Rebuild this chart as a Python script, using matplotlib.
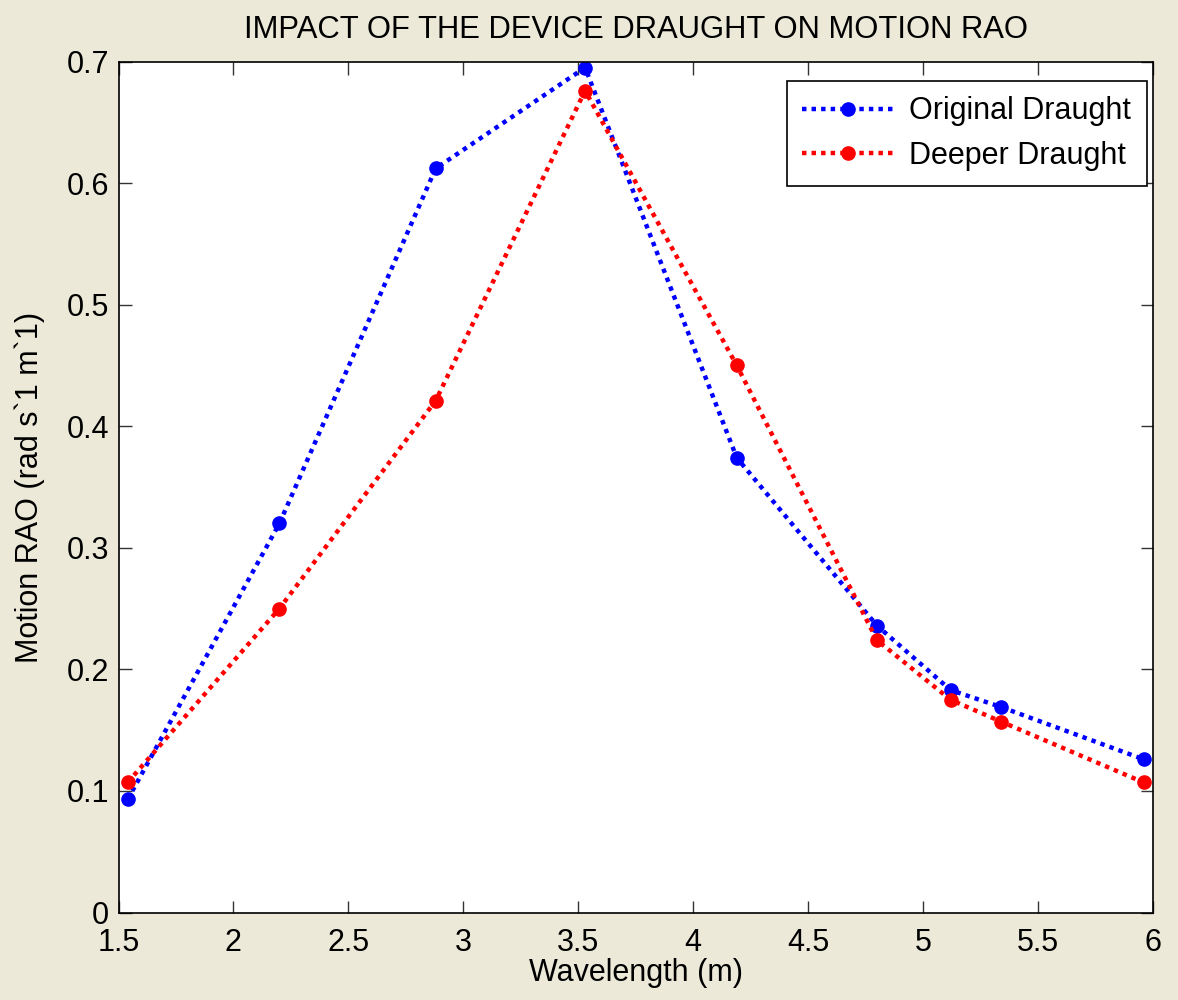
# Motion RAO vs wavelength (draught comparison)
import matplotlib.pyplot as plt

plt.rcParams['font.family'] = ['Liberation Sans', 'DejaVu Sans']

# データ
wavelength = [1.54, 2.20, 2.88, 3.53, 4.19, 4.80, 5.12, 5.34, 5.96]
rao_original = [0.093, 0.320, 0.612, 0.695, 0.374, 0.236, 0.183, 0.169, 0.126]
rao_deeper = [0.107, 0.250, 0.421, 0.676, 0.450, 0.224, 0.175, 0.157, 0.107]

bg = '#ECE9D8'
fig = plt.figure(figsize=(11.78, 10), dpi=100, facecolor=bg)
ax = fig.add_axes([0.1006, 0.0875, 0.878, 0.851])

dots = (0, (1.0, 1.15))
ax.plot(wavelength, rao_original, color='#0000FF', linestyle=dots, lw=3.2,
        marker='o', markersize=9.5, label='Original Draught')
ax.plot(wavelength, rao_deeper, color='#FF0000', linestyle=dots, lw=3.2,
        marker='o', markersize=9.5, label='Deeper Draught')

ax.set_xlim(1.5, 6)
ax.set_ylim(0, 0.7)
ax.set_xticks([1.5, 2, 2.5, 3, 3.5, 4, 4.5, 5, 5.5, 6])
ax.set_xticklabels(['1.5', '2', '2.5', '3', '3.5', '4', '4.5', '5', '5.5', '6'])
ax.set_yticks([0, 0.1, 0.2, 0.3, 0.4, 0.5, 0.6, 0.7])
ax.set_yticklabels(['0', '0.1', '0.2', '0.3', '0.4', '0.5', '0.6', '0.7'])
ax.tick_params(direction='in', length=9, width=1, labelsize=22,
               top=True, right=True, color='#333333')
ax.tick_params(axis='x', pad=11)
ax.tick_params(axis='y', pad=7)
for s in ax.spines.values():
    s.set_linewidth(1.2)

ax.set_title('IMPACT OF THE DEVICE DRAUGHT ON MOTION RAO', fontsize=22.3, pad=17)
ax.set_xlabel('Wavelength (m)', fontsize=22, labelpad=0)
ax.set_ylabel('Motion RAO (rad s`1 m`1)', fontsize=22, labelpad=15)

leg = ax.legend(loc='upper right', bbox_to_anchor=(0.994, 0.977),
                fontsize=22, fancybox=False,
                edgecolor='black', framealpha=1, borderaxespad=0,
                handlelength=3.0, handletextpad=0.5,
                borderpad=0.5, labelspacing=0.48)
leg.get_frame().set_linewidth(1.2)

fig.savefig('out.png', dpi=100, facecolor=bg)
